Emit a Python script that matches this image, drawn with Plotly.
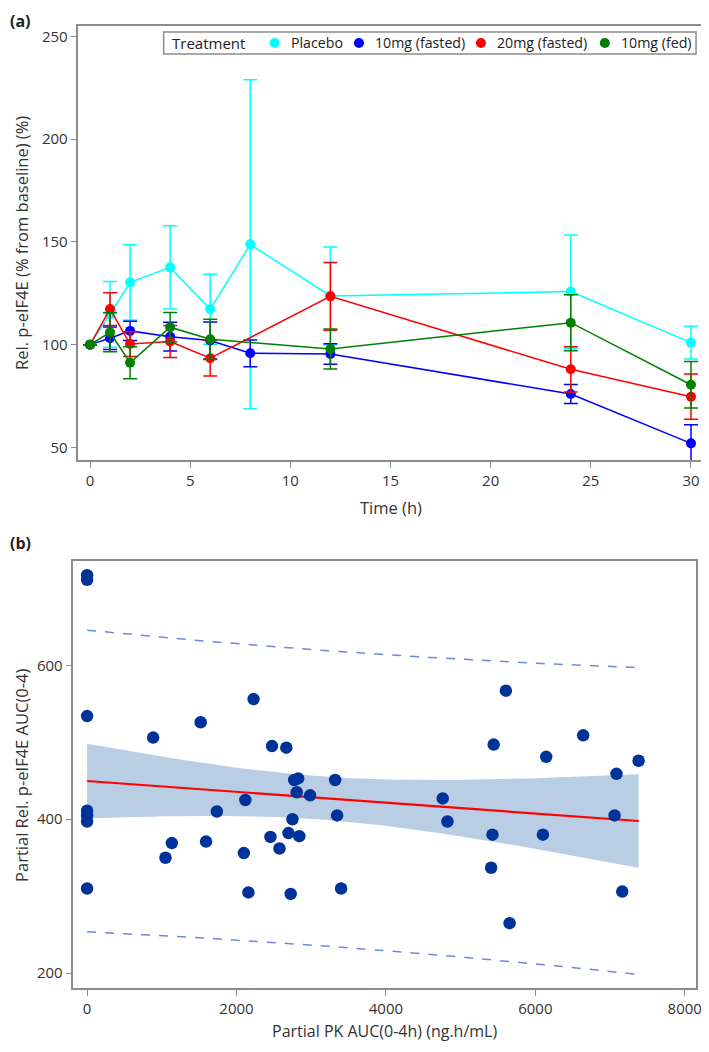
import numpy as np
import plotly.graph_objects as go
from plotly.subplots import make_subplots

# ---- panel (a): time course of p-eIF4E ----
t_placebo = [0, 1, 2, 4, 6, 8, 12, 24, 30]
placebo = [100, 114.7, 130.3, 137.6, 117.2, 148.8, 123.7, 125.8, 101]
placebo_err = [None, 16, 18.3, 20.2, 17, 80, 23.8, 27.6, 8]

t_10fast = [0, 1, 2, 4, 6, 8, 12, 24, 30]
mg10_fasted = [100, 103.1, 106.7, 103.9, 102, 95.8, 95.5, 76, 52]
mg10_fasted_err = [None, 5.5, 4.7, 7, 9, 6.5, 5, 4.6, 9]

t_20fast = [0, 1, 2, 4, 6, 12, 24, 30]
mg20_fasted = [100, 117.3, 100.3, 101.5, 93.4, 123.5, 88, 74.7]
mg20_fasted_err = [None, 8, 6, 7.8, 8.6, 16.5, 11, 11]

t_10fed = [0, 1, 2, 4, 6, 12, 24, 30]
mg10_fed = [100, 106, 91.2, 108.5, 102.6, 97.9, 110.7, 80.5]
mg10_fed_err = [None, 9.5, 7.8, 7.2, 9.8, 9.7, 13.6, 11.3]

treatments = ["Placebo", "10mg (fasted)", "20mg (fasted)", "10mg (fed)"]
colors = ["#00ffff", "#0000ff", "#ff0000", "#008000"]

# ---- panel (b): PK AUC vs PD AUC ----
pk_auc = [0, 0, 0, 0, 0, 0, 0, 884, 1049, 1134, 1520, 1592, 1737, 2098, 2118,
          2159, 2228, 2454, 2475, 2575, 2666, 2695, 2725, 2749, 2772, 2825,
          2806, 2840, 2985, 3320, 3346, 3400, 4760, 4823, 5408, 5426, 5442,
          5605, 5655, 6101, 6145, 6640, 7060, 7086, 7163, 7382]
pd_auc = [717, 711, 534, 411, 405, 397, 310, 506, 350, 369, 526, 371, 410, 356,
          425, 305, 556, 377, 495, 362, 493, 382, 303, 400, 451, 453, 435, 378,
          431, 451, 405, 310, 427, 397, 337, 380, 497, 567, 265, 380, 481, 509,
          405, 459, 306, 476]

t_crit = 2.015  # t(0.975, n-2)

FONT = "Open Sans, DejaVu Sans, sans-serif"
# page body has an 8px margin, so the figure sits at (8, 8)
OFF = 8
W, H = 701, 1036


def px(x):
    return (x - OFF) / W


def py(y):
    return 1 - (y - OFF) / H


fig = make_subplots(rows=2, cols=1)

series = [
    (t_placebo, placebo, placebo_err),
    (t_10fast, mg10_fasted, mg10_fasted_err),
    (t_20fast, mg20_fasted, mg20_fasted_err),
    (t_10fed, mg10_fed, mg10_fed_err),
]
for name, col, (tx, ty, te) in zip(treatments, colors, series):
    fig.add_trace(go.Scatter(
        x=tx, y=ty, mode="lines+markers", name=name, showlegend=False,
        line=dict(color=col, width=1.5),
        marker=dict(color=col, size=10),
        error_y=dict(type="data", array=te, visible=True, color=col,
                     thickness=1.5, width=7),
    ), row=1, col=1)

# regression with confidence and prediction bands
X = np.array(pk_auc, dtype=float)
Y = np.array(pd_auc, dtype=float)
n = len(X)
b1, b0 = np.polyfit(X, Y, 1)
s = np.sqrt(np.sum((Y - (b0 + b1 * X)) ** 2) / (n - 2))
sxx = np.sum((X - X.mean()) ** 2)
xs = np.linspace(0, X.max(), 120)
fit = b0 + b1 * xs
ci = t_crit * s * np.sqrt(1 / n + (xs - X.mean()) ** 2 / sxx)
pi = t_crit * s * np.sqrt(1 + 1 / n + (xs - X.mean()) ** 2 / sxx)

fig.add_trace(go.Scatter(
    x=np.concatenate([xs, xs[::-1]]), y=np.concatenate([fit + ci, (fit - ci)[::-1]]),
    fill="toself", fillcolor="#b9cde5", line=dict(width=0), mode="lines",
    showlegend=False, hoverinfo="skip"), row=2, col=1)
for band in (fit + pi, fit - pi):
    fig.add_trace(go.Scatter(
        x=xs, y=band, mode="lines", showlegend=False,
        line=dict(color="#7088d8", width=1.5, dash="dash")), row=2, col=1)
fig.add_trace(go.Scatter(
    x=xs, y=fit, mode="lines", showlegend=False,
    line=dict(color="#ff0000", width=2.2)), row=2, col=1)
fig.add_trace(go.Scatter(
    x=pk_auc, y=pd_auc, mode="markers", showlegend=False,
    marker=dict(color="#003399", size=12.5)), row=2, col=1)

axis_style = dict(
    showgrid=False, zeroline=False, showline=True, linecolor="#8c8c8c",
    linewidth=1.5, mirror=True, ticks="outside", tickcolor="#8c8c8c",
    ticklen=6, tickwidth=1.2, tickfont=dict(family=FONT, size=15, color="#333"),
)
title_font = dict(family=FONT, size=16.5, color="#333")

fig.update_xaxes(axis_style)
fig.update_yaxes(axis_style)

# legend drawn as a boxed row, marker dots only
shapes = [dict(type="rect", xref="paper", yref="paper",
               x0=px(165), x1=px(702), y0=py(54), y1=py(32),
               line=dict(color="#8c8c8c", width=1.5), fillcolor="white", layer="above")]
annotations = [dict(text="Treatmen<span style='letter-spacing:-1px'>t</span>",
                    x=px(171), y=py(43), xref="paper", yref="paper",
                    xanchor="left", yanchor="middle", showarrow=False,
                    font=dict(family=FONT, size=15, color="#222"))]
dot_x = [277, 362, 485, 610]
for name, col, dx in zip(treatments, colors, dot_x):
    shapes.append(dict(type="circle", xref="paper", yref="paper",
                       xsizemode="pixel", ysizemode="pixel",
                       xanchor=px(dx), yanchor=py(43),
                       x0=-5, x1=5, y0=-5, y1=5,
                       fillcolor=col, line=dict(width=0), layer="above"))
    annotations.append(dict(text=name, x=px(dx + 14), y=py(43),
                            xref="paper", yref="paper",
                            xanchor="left", yanchor="middle", showarrow=False,
                            font=dict(family=FONT, size=14.2, color="#222")))

# axis titles and panel labels
annotations += [
    dict(text="Time (h)", x=px(394), y=py(508), xref="paper", yref="paper",
         xanchor="center", yanchor="middle", showarrow=False, font=title_font),
    dict(text="Rel. p-eIF4E (% from baseline) (%)", x=px(21), y=py(243),
         xref="paper", yref="paper", textangle=-90,
         xanchor="center", yanchor="middle", showarrow=False, font=title_font),
    dict(text="Partial PK AUC(0-4h) (ng.h/mL)", x=px(388), y=0,
         xref="paper", yref="paper",
         xanchor="center", yanchor="bottom", showarrow=False,
         font=dict(family=FONT, size=16, color="#333")),
    dict(text="Partial Rel. p-eIF4E AUC(0-4)", x=px(21), y=py(775),
         xref="paper", yref="paper", textangle=-90,
         xanchor="center", yanchor="middle", showarrow=False, font=title_font),
    dict(text="<b>(a)</b>", x=0, y=1, xref="paper", yref="paper",
         xanchor="left", yanchor="top", showarrow=False,
         font=dict(family=FONT, size=16, color="#222")),
    dict(text="<b>(b)</b>", x=0, y=py(543), xref="paper", yref="paper",
         xanchor="left", yanchor="middle", showarrow=False,
         font=dict(family=FONT, size=16, color="#222")),
]

fig.update_layout(
    width=W, height=H,
    margin=dict(l=0, r=0, t=0, b=0),
    paper_bgcolor="white", plot_bgcolor="white",
    font=dict(family=FONT, color="#333"),
    showlegend=False,
    xaxis=dict(domain=[px(79), px(708)], range=[-0.58, 30.55],
               tickvals=[0, 5, 10, 15, 20, 25, 30]),
    yaxis=dict(domain=[py(460), py(26)], range=[43.9, 255],
               tickvals=[50, 100, 150, 200, 250]),
    xaxis2=dict(domain=[px(74), px(702)], range=[-183, 8151],
                tickvals=[0, 2000, 4000, 6000, 8000]),
    yaxis2=dict(domain=[py(988), py(561)], range=[180.8, 735.4],
                tickvals=[200, 400, 600]),
    shapes=shapes,
    annotations=annotations,
)

fig.write_html("out.html")
